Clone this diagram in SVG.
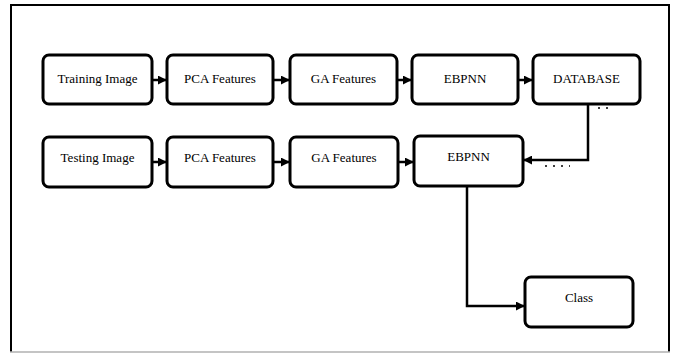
<svg xmlns="http://www.w3.org/2000/svg" width="674" height="358" viewBox="0 0 674 358">
  <style>
    .box { fill: #ffffff; stroke: #000000; stroke-width: 3; }
    .lbl { font-family: "Liberation Serif", "Times New Roman", serif; font-size: 13px; fill: #000000; text-anchor: middle; }
    .wire { fill: none; stroke: #000000; stroke-width: 2.5; }
    .speck { fill: none; stroke: #000000; stroke-width: 1.5; stroke-dasharray: 2 6; }
    .edge { stroke: #000000; stroke-width: 2; }
  </style>
  <defs>
    <marker id="arrow" viewBox="0 0 10 10" refX="9" refY="5" markerWidth="3.6" markerHeight="3.6" orient="auto" markerUnits="strokeWidth">
      <path d="M0,0 L10,5 L0,10 Z" fill="#000000"/>
    </marker>
  </defs>

  <!-- outer frame: dark top/left/right, light bottom -->
  <rect x="11" y="5" width="658" height="347" fill="#ffffff"/>
  <line class="edge" x1="11" y1="5" x2="669" y2="5"/>
  <line class="edge" x1="11" y1="4" x2="11" y2="352"/>
  <line class="edge" x1="669" y1="4" x2="669" y2="352"/>
  <line x1="10" y1="352" x2="670" y2="352" stroke="#b0b0b0" stroke-width="1.5"/>

  <!-- training row -->
  <g id="training-image"><rect class="box" x="43" y="55" width="109" height="49" rx="6"/><text class="lbl" x="97.5" y="83">Training Image</text></g>
  <g id="pca-train"><rect class="box" x="167" y="55" width="106" height="49" rx="6"/><text class="lbl" x="220" y="83">PCA Features</text></g>
  <g id="ga-train"><rect class="box" x="290" y="55" width="107" height="49" rx="6"/><text class="lbl" x="343.5" y="83">GA Features</text></g>
  <g id="ebpnn-train"><rect class="box" x="412" y="55" width="106" height="49" rx="6"/><text class="lbl" x="465" y="83">EBPNN</text></g>
  <g id="database"><rect class="box" x="533" y="55" width="107" height="49" rx="6"/><text class="lbl" x="586.5" y="83">DATABASE</text></g>

  <!-- testing row -->
  <g id="testing-image"><rect class="box" x="43" y="137" width="109" height="50" rx="6"/><text class="lbl" x="97.5" y="162">Testing Image</text></g>
  <g id="pca-test"><rect class="box" x="167" y="137" width="106" height="50" rx="6"/><text class="lbl" x="220" y="162">PCA Features</text></g>
  <g id="ga-test"><rect class="box" x="290" y="137" width="108" height="50" rx="6"/><text class="lbl" x="344" y="162">GA Features</text></g>
  <g id="ebpnn-test"><rect class="box" x="414" y="136" width="109" height="50" rx="6"/><text class="lbl" x="468.5" y="161">EBPNN</text></g>

  <!-- result -->
  <g id="class"><rect class="box" x="525" y="277" width="108" height="50" rx="6"/><text class="lbl" x="579" y="302">Class</text></g>

  <!-- connectors -->
  <g id="connectors">
    <line class="wire" x1="152" y1="80" x2="166" y2="80" marker-end="url(#arrow)"/>
    <line class="wire" x1="273" y1="80" x2="289" y2="80" marker-end="url(#arrow)"/>
    <line class="wire" x1="397" y1="80" x2="411" y2="80" marker-end="url(#arrow)"/>
    <line class="wire" x1="518" y1="80" x2="532" y2="80" marker-end="url(#arrow)"/>

    <line class="wire" x1="152" y1="162" x2="166" y2="162" marker-end="url(#arrow)"/>
    <line class="wire" x1="273" y1="162" x2="289" y2="162" marker-end="url(#arrow)"/>
    <line class="wire" x1="398" y1="162" x2="413" y2="162" marker-end="url(#arrow)"/>

    <polyline class="wire" points="588,104 588,160 524,160" marker-end="url(#arrow)"/>
    <polyline class="wire" points="467,186 467,306 524,306" marker-end="url(#arrow)"/>

    <!-- faint dotted traces beside the return lines -->
    <line class="speck" x1="598" y1="108" x2="612" y2="108"/>
    <line class="speck" x1="545" y1="166" x2="570" y2="166"/>
  </g>
</svg>
